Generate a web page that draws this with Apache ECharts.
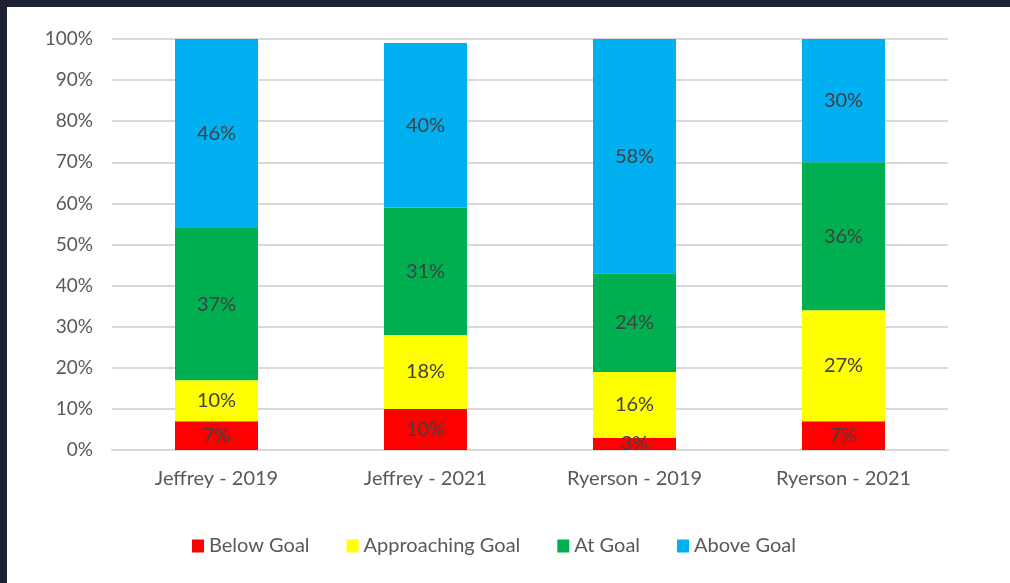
<!DOCTYPE html>
<html>
<head>
<meta charset="utf-8">
<script src="https://cdn.jsdelivr.net/npm/echarts@6/dist/echarts.min.js"></script>
<style>
html,body{margin:0;padding:0;background:#ffffff;}
#chart{width:1010px;height:583px;}
</style>
</head>
<body>
<div id="chart"></div>
<script>
const categories = ['Jeffrey - 2019', 'Jeffrey - 2021', 'Ryerson - 2019', 'Ryerson - 2021'];
const belowGoal = [7, 10, 3, 7];
const approachingGoal = [10, 18, 16, 27];
const atGoal = [37, 31, 24, 36];
const aboveGoal = [46, 40, 58, 30];
const yTicks = [0, 10, 20, 30, 40, 50, 60, 70, 80, 90, 100];

const FONT = 'Lato, "Open Sans", sans-serif';
const chart = echarts.init(document.getElementById('chart'));

function mk(name, data, color) {
  return {
    name: name,
    type: 'bar',
    stack: 'total',
    data: data,
    barWidth: 83,
    itemStyle: { color: color },
    label: {
      show: true,
      position: 'inside',
      formatter: '{c}%',
      color: '#404040',
      fontFamily: FONT,
      fontSize: 20
    }
  };
}

chart.setOption({
  backgroundColor: '#ffffff',
  animation: false,
  graphic: [
    { type: 'rect', left: 0, top: 0, shape: { width: 1010, height: 7 }, style: { fill: '#1c2230' }, z: 100 },
    { type: 'rect', left: 0, top: 0, shape: { width: 7, height: 583 }, style: { fill: '#1c2230' }, z: 100 }
  ],
  grid: { left: 112, right: 62, top: 39, bottom: 133, containLabel: false },
  legend: {
    top: 531,
    left: 187,
    itemWidth: 12,
    itemHeight: 13,
    itemGap: 37,
    icon: 'rect',
    textStyle: { color: '#595959', fontFamily: FONT, fontSize: 20 },
    data: ['Below Goal', 'Approaching Goal', 'At Goal', 'Above Goal']
  },
  xAxis: {
    type: 'category',
    data: categories,
    axisTick: { show: false },
    axisLine: { lineStyle: { color: '#d9d9d9', width: 2 } },
    axisLabel: { color: '#595959', fontFamily: FONT, fontSize: 20, margin: 19 }
  },
  yAxis: {
    type: 'value',
    min: 0,
    max: 100,
    interval: 10,
    axisLine: { show: false },
    axisTick: { show: false },
    splitLine: { lineStyle: { color: '#d9d9d9', width: 2 } },
    axisLabel: {
      color: '#595959', fontFamily: FONT, fontSize: 19, margin: 19,
      formatter: function (v) { return yTicks.indexOf(v) >= 0 ? v + '%' : ''; }
    }
  },
  series: [
    mk('Below Goal', belowGoal, '#ff0000'),
    mk('Approaching Goal', approachingGoal, '#ffff00'),
    mk('At Goal', atGoal, '#00b050'),
    mk('Above Goal', aboveGoal, '#00b0f0')
  ]
});
</script>
</body>
</html>
